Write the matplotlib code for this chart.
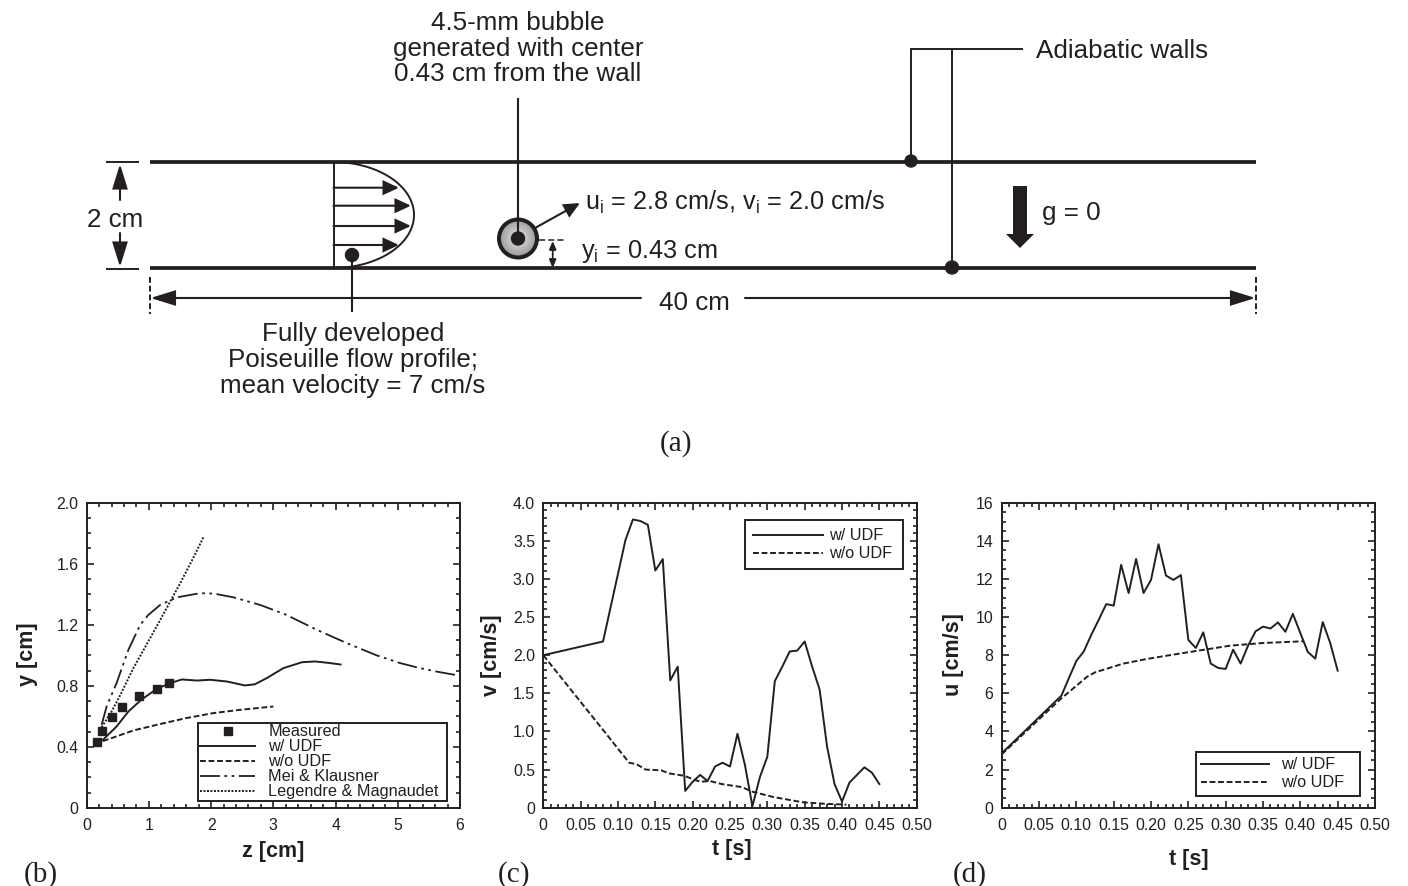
import numpy as np
from matplotlib import pyplot as plt
from matplotlib.patches import Circle, FancyArrowPatch, Polygon
from matplotlib.ticker import MultipleLocator

plt.rcParams['font.family'] = ['Liberation Sans', 'DejaVu Sans']
plt.rcParams['mathtext.fontset'] = 'custom'
plt.rcParams['mathtext.rm'] = 'Liberation Sans'
plt.rcParams['mathtext.it'] = 'Liberation Sans'

INK = '#231f20'

# Panel (b)
z_measured = [0.16, 0.24, 0.41, 0.56, 0.84, 1.13, 1.33]
y_measured = [0.434, 0.504, 0.595, 0.663, 0.735, 0.78, 0.818]
z_udf = [0.13, 0.27, 0.48, 0.67, 0.88, 1.125, 1.34, 1.53, 1.77, 1.98, 2.25, 2.54, 2.7, 2.89, 3.16, 3.46, 3.67, 3.88, 4.08]
y_udf = [0.425, 0.45, 0.534, 0.632, 0.71, 0.78, 0.818, 0.842, 0.835, 0.84, 0.829, 0.803, 0.81, 0.85, 0.916, 0.955, 0.96, 0.951, 0.94]
z_no_udf = [0.13, 0.43, 0.75, 1.18, 1.6, 2.04, 2.46, 3.0]
y_no_udf = [0.42, 0.462, 0.508, 0.55, 0.589, 0.622, 0.643, 0.665]
z_mei = [0.24, 0.32, 0.48, 0.67, 0.86, 0.99, 1.18, 1.45, 1.82, 2.04, 2.36, 2.79, 3.21, 3.7, 4.18, 4.66, 5.04, 5.36, 5.62, 5.92]
y_mei = [0.545, 0.665, 0.818, 1.036, 1.2, 1.265, 1.33, 1.38, 1.407, 1.405, 1.38, 1.33, 1.265, 1.167, 1.08, 1.0, 0.949, 0.916, 0.894, 0.872]
z_legendre = [0.21, 0.4, 0.54, 0.75, 1.125, 1.5, 1.71, 1.875]
y_legendre = [0.51, 0.632, 0.74, 0.916, 1.19, 1.47, 1.636, 1.773]

# Panel (c)
t_v_udf = [0, 0.08, 0.11, 0.12, 0.13, 0.14, 0.15, 0.16, 0.17, 0.18, 0.19, 0.20, 0.21, 0.22, 0.23, 0.24, 0.25, 0.26,
           0.27, 0.28, 0.29, 0.30, 0.31, 0.32, 0.33, 0.34, 0.35, 0.36, 0.37, 0.38, 0.39, 0.40, 0.41, 0.42, 0.43, 0.44, 0.45]
v_udf = [2.0, 2.18, 3.51, 3.78, 3.76, 3.71, 3.11, 3.26, 1.67, 1.85, 0.22, 0.34, 0.43, 0.35, 0.54, 0.59, 0.54, 0.97,
         0.56, 0.02, 0.4, 0.67, 1.66, 1.85, 2.05, 2.06, 2.18, 1.85, 1.55, 0.8, 0.31, 0.08, 0.33, 0.43, 0.53, 0.46, 0.31]
t_v_no_udf = [0, 0.08, 0.115, 0.125, 0.137, 0.158, 0.168, 0.188, 0.21, 0.223, 0.239, 0.266, 0.28, 0.308, 0.348, 0.38, 0.406]
v_no_udf = [2.0, 1.02, 0.59, 0.57, 0.5, 0.49, 0.45, 0.42, 0.34, 0.35, 0.31, 0.27, 0.21, 0.14, 0.07, 0.05, 0.04]

# Panel (d)
t_u_udf = [0, 0.08, 0.09, 0.10, 0.11, 0.12, 0.13, 0.14, 0.15, 0.16, 0.17, 0.18, 0.19, 0.20, 0.21, 0.22, 0.23, 0.24, 0.25,
           0.26, 0.27, 0.28, 0.29, 0.30, 0.31, 0.32, 0.33, 0.34, 0.35, 0.36, 0.37, 0.38, 0.39, 0.40, 0.41, 0.42, 0.43, 0.44, 0.45]
u_udf = [2.85, 5.88, 6.8, 7.7, 8.2, 9.07, 9.86, 10.68, 10.6, 12.74, 11.26, 13.05, 11.26, 11.95, 13.82, 12.18, 11.95, 12.2, 8.8,
         8.38, 9.2, 7.56, 7.33, 7.28, 8.29, 7.56, 8.5, 9.25, 9.5, 9.4, 9.72, 9.23, 10.17, 9.16, 8.17, 7.82, 9.74, 8.64, 7.19]
t_u_no_udf = [0, 0.078, 0.114, 0.125, 0.163, 0.194, 0.225, 0.257, 0.306, 0.35, 0.404]
u_no_udf = [2.8, 5.67, 6.86, 7.1, 7.56, 7.8, 8.0, 8.2, 8.5, 8.64, 8.73]

t_labels = ['0', '0.05', '0.10', '0.15', '0.20', '0.25', '0.30', '0.35', '0.40', '0.45', '0.50']
t_ticks = [0, 0.05, 0.10, 0.15, 0.20, 0.25, 0.30, 0.35, 0.40, 0.45, 0.50]

W, H = 1408, 886
fig = plt.figure(figsize=(W / 100, H / 100), dpi=100)

# Schematic is drawn in picture pixels on a full-figure axes
sk = fig.add_axes([0, 0, 1, 1], zorder=0)
sk.set_xlim(0, W)
sk.set_ylim(H, 0)
sk.axis('off')
sk.set_autoscale_on(False)


def line(xs, ys, lw=1.4, **kw):
    sk.plot(xs, ys, color=INK, lw=lw, solid_capstyle='butt', **kw)


def arrow(start, end, length=13, width=12, lw=1.5):
    style = '-|>,head_length=%g,head_width=%g' % (length * 0.72, width * 0.36)
    sk.add_patch(FancyArrowPatch(start, end, arrowstyle=style, mutation_scale=1, shrinkA=0, shrinkB=0,
                                 color=INK, lw=lw, joinstyle='miter', zorder=3))


def dot(x, y, r=6.5):
    sk.add_patch(Circle((x, y), r, color=INK, zorder=5))


def label(x, y, s, ha='center', size=18.7):
    sk.text(x, y, s, ha=ha, va='baseline', fontsize=size, color=INK)


# Channel walls
line([150, 1256], [162, 162], lw=2.7)
line([150, 1256], [267.5, 267.5], lw=2.7)

# 2 cm dimension
line([106, 139], [162, 162], lw=1.4)
line([106, 139], [268.5, 268.5], lw=1.4)
arrow((120, 200), (120, 164), length=21, width=13)
arrow((120, 233), (120, 267), length=21, width=13)
label(115, 227, '2 cm')

# Poiseuille profile
line([333.5, 333.5], [162, 269], lw=1.4)
s = np.linspace(-1, 1, 120)
line(333 + 81 * np.sqrt(1 - s ** 2), 215 + 53 * s, lw=1.4)
for arrow_y, arrow_x in [(187.7, 399), (205.7, 411), (226, 411), (245, 399)]:
    arrow((333.5, arrow_y), (arrow_x, arrow_y), length=13, width=12, lw=1.5)
dot(352, 255)
line([352, 352], [255, 312], lw=1.5)
label(353, 341, 'Fully developed')
label(353, 367, 'Poiseuille flow profile;')
label(353, 393, 'mean velocity = 7 cm/s')

# Bubble
bub_x, bub_y, bub_r = 518, 238.5, 19
gx, gy = np.meshgrid(np.linspace(-1, 1, 80), np.linspace(-1, 1, 80))
shade = sk.imshow(np.hypot(gx, gy), cmap='gray_r', vmin=-0.25, vmax=2.875, aspect='auto', interpolation='bilinear',
                  extent=(bub_x - bub_r, bub_x + bub_r, bub_y + bub_r, bub_y - bub_r), zorder=2)
shade.set_clip_path(Circle((bub_x, bub_y), bub_r, transform=sk.transData))
sk.add_patch(Circle((bub_x, bub_y), bub_r, fc='none', ec=INK, lw=2.9, zorder=3))
dot(bub_x, bub_y)
line([bub_x, bub_x], [98, bub_y], lw=1.5)
label(518, 30, '4.5-mm bubble')
label(518, 56, 'generated with center')
label(518, 81, '0.43 cm from the wall')
arrow((535, 228), (580, 203), length=13, width=12)
label(585, 210, r'u$_{\mathrm{i}}$ = 2.8 cm/s, v$_{\mathrm{i}}$ = 2.0 cm/s', ha='left', size=18.2)
label(581, 258, r'y$_{\mathrm{i}}$ = 0.43 cm', ha='left', size=18.2)
line([539, 564], [239.5, 239.5], lw=1.1, ls=(0, (4, 2)))
arrow((552.7, 254), (552.7, 241), length=7, width=6, lw=1.2)
arrow((552.7, 254), (552.7, 268), length=7, width=6, lw=1.2)

# 40 cm dimension
line([150, 150], [277, 314], lw=1.4, ls=(0, (3, 1.5)))
line([1256, 1256], [277, 314], lw=1.4, ls=(0, (3, 1.5)))
arrow((641, 298), (150.5, 298), length=21, width=13)
arrow((745, 298), (1255.5, 298), length=21, width=13)
label(694, 310, '40 cm')

# Adiabatic walls leader
line([910, 1023], [49, 49], lw=1.4)
line([910.5, 910.5], [49, 162], lw=1.4)
line([952, 952], [49, 267], lw=1.4)
dot(911, 161, 6)
dot(952, 267.5)
label(1036, 58, 'Adiabatic walls', ha='left')

# Gravity arrow
sk.add_patch(Polygon([(1013, 186), (1027, 186), (1027, 234), (1034, 234), (1020, 248), (1006, 234), (1013, 234)],
                     color=INK, lw=0))
label(1042, 220, 'g = 0', ha='left')

# Panel letters
for letter, x, y in [('(a)', 676, 451), ('(b)', 41, 882), ('(c)', 514, 882), ('(d)', 970, 882)]:
    sk.text(x, y, letter, ha='center', va='baseline', fontsize=21, color=INK, family=['Liberation Serif'])


def make_panel(left, right, top, bottom):
    ax = fig.add_axes([left / W, 1 - bottom / H, (right - left) / W, (bottom - top) / H], zorder=1)
    ax.patch.set_alpha(0)
    for spine in ax.spines.values():
        spine.set_linewidth(1.4)
        spine.set_color(INK)
    ax.tick_params(which='both', direction='in', top=True, right=True, color=INK, labelcolor=INK, labelsize=11.4, width=1.2)
    ax.tick_params(which='major', length=5, pad=6)
    ax.tick_params(which='minor', length=3.2)
    ax.tick_params(axis='x', which='major', pad=7.5)
    return ax


def finish_panel(ax, xlabel, ylabel, xpos, ypos):
    ax.set_xlabel(xlabel, fontsize=15.5, fontweight='bold', color=INK, va='center')
    ax.set_ylabel(ylabel, fontsize=15.5, fontweight='bold', color=INK, va='center')
    ax.xaxis.set_label_coords(xpos[0], xpos[1], transform=sk.transData)
    ax.yaxis.set_label_coords(ypos[0], ypos[1], transform=sk.transData)


def panel_legend(ax, bbox, handlelength, textpad, spacing, pad):
    leg = ax.legend(loc='center', bbox_to_anchor=bbox, bbox_transform=sk.transData, mode='expand', borderaxespad=0,
                    fancybox=False, framealpha=1, edgecolor=INK, fontsize=11.7, handlelength=handlelength,
                    handletextpad=textpad, labelspacing=spacing, borderpad=pad, labelcolor=INK)
    leg.get_frame().set_linewidth(1.4)
    return leg


solid = dict(color=INK, lw=1.4, ls='-')
dashed = dict(color=INK, lw=1.4, ls=(0, (3, 1.4)))

# (b)
axb = make_panel(86.7, 460, 502.7, 808)
axb.plot(z_measured, y_measured, ls='none', marker='s', ms=6, color=INK, label='Measured', zorder=4)
axb.plot(z_udf, y_udf, label='w/ UDF', **solid)
axb.plot(z_no_udf, y_no_udf, label='w/o UDF', **dashed)
axb.plot(z_mei, y_mei, color=INK, lw=1.3, ls=(0, (11, 2.5, 1.5, 2.5, 1.5, 2.5)), label='Mei & Klausner')
axb.plot(z_legendre, y_legendre, color=INK, lw=1.4, ls=(0, (1, 0.8)), label='Legendre & Magnaudet')
axb.set_xlim(0, 6)
axb.set_ylim(0, 2)
axb.set_xticks(range(7), ['0', '1', '2', '3', '4', '5', '6'])
axb.set_yticks([0, 0.4, 0.8, 1.2, 1.6, 2.0], ['0', '0.4', '0.8', '1.2', '1.6', '2.0'])
axb.xaxis.set_minor_locator(MultipleLocator(0.2))
axb.yaxis.set_minor_locator(MultipleLocator(0.1))
finish_panel(axb, 'z [cm]', 'y [cm]', (273, 852), (27, 654))
panel_legend(axb, (198.3, 801.7, 249, -80), 3.4, 0.8, 0.0, 0.1)

# (c)
axc = make_panel(543.3, 916.7, 502.7, 807.7)
axc.plot(t_v_udf, v_udf, label='w/ UDF', **solid)
axc.plot(t_v_no_udf, v_no_udf, label='w/o UDF', **dashed)
axc.set_xlim(0, 0.5)
axc.set_ylim(0, 4)
axc.set_xticks(t_ticks, t_labels)
axc.set_yticks([0, 0.5, 1, 1.5, 2, 2.5, 3, 3.5, 4], ['0', '0.5', '1.0', '1.5', '2.0', '2.5', '3.0', '3.5', '4.0'])
axc.xaxis.set_minor_locator(MultipleLocator(0.01))
axc.yaxis.set_minor_locator(MultipleLocator(0.1))
finish_panel(axc, 't [s]', 'v [cm/s]', (731.7, 849), (491, 655))
panel_legend(axc, (745, 570.7, 157.7, -51.7), 4.3, 0.4, 0.17, 0.5)

# (d)
axd = make_panel(1001.7, 1375, 502.7, 807.7)
axd.plot(t_u_udf, u_udf, label='w/ UDF', **solid)
axd.plot(t_u_no_udf, u_no_udf, label='w/o UDF', **dashed)
axd.set_xlim(0, 0.5)
axd.set_ylim(0, 16)
axd.set_xticks(t_ticks, t_labels)
axd.set_yticks(range(0, 17, 2), [str(v) for v in range(0, 17, 2)])
axd.xaxis.set_minor_locator(MultipleLocator(0.01))
axd.yaxis.set_minor_locator(MultipleLocator(0.5))
finish_panel(axd, 't [s]', 'u [cm/s]', (1189, 859), (954, 655))
panel_legend(axd, (1195.7, 796.7, 164.3, -45.7), 4.2, 0.74, 0.17, 0.34)

fig.savefig('out.png', dpi=100)
